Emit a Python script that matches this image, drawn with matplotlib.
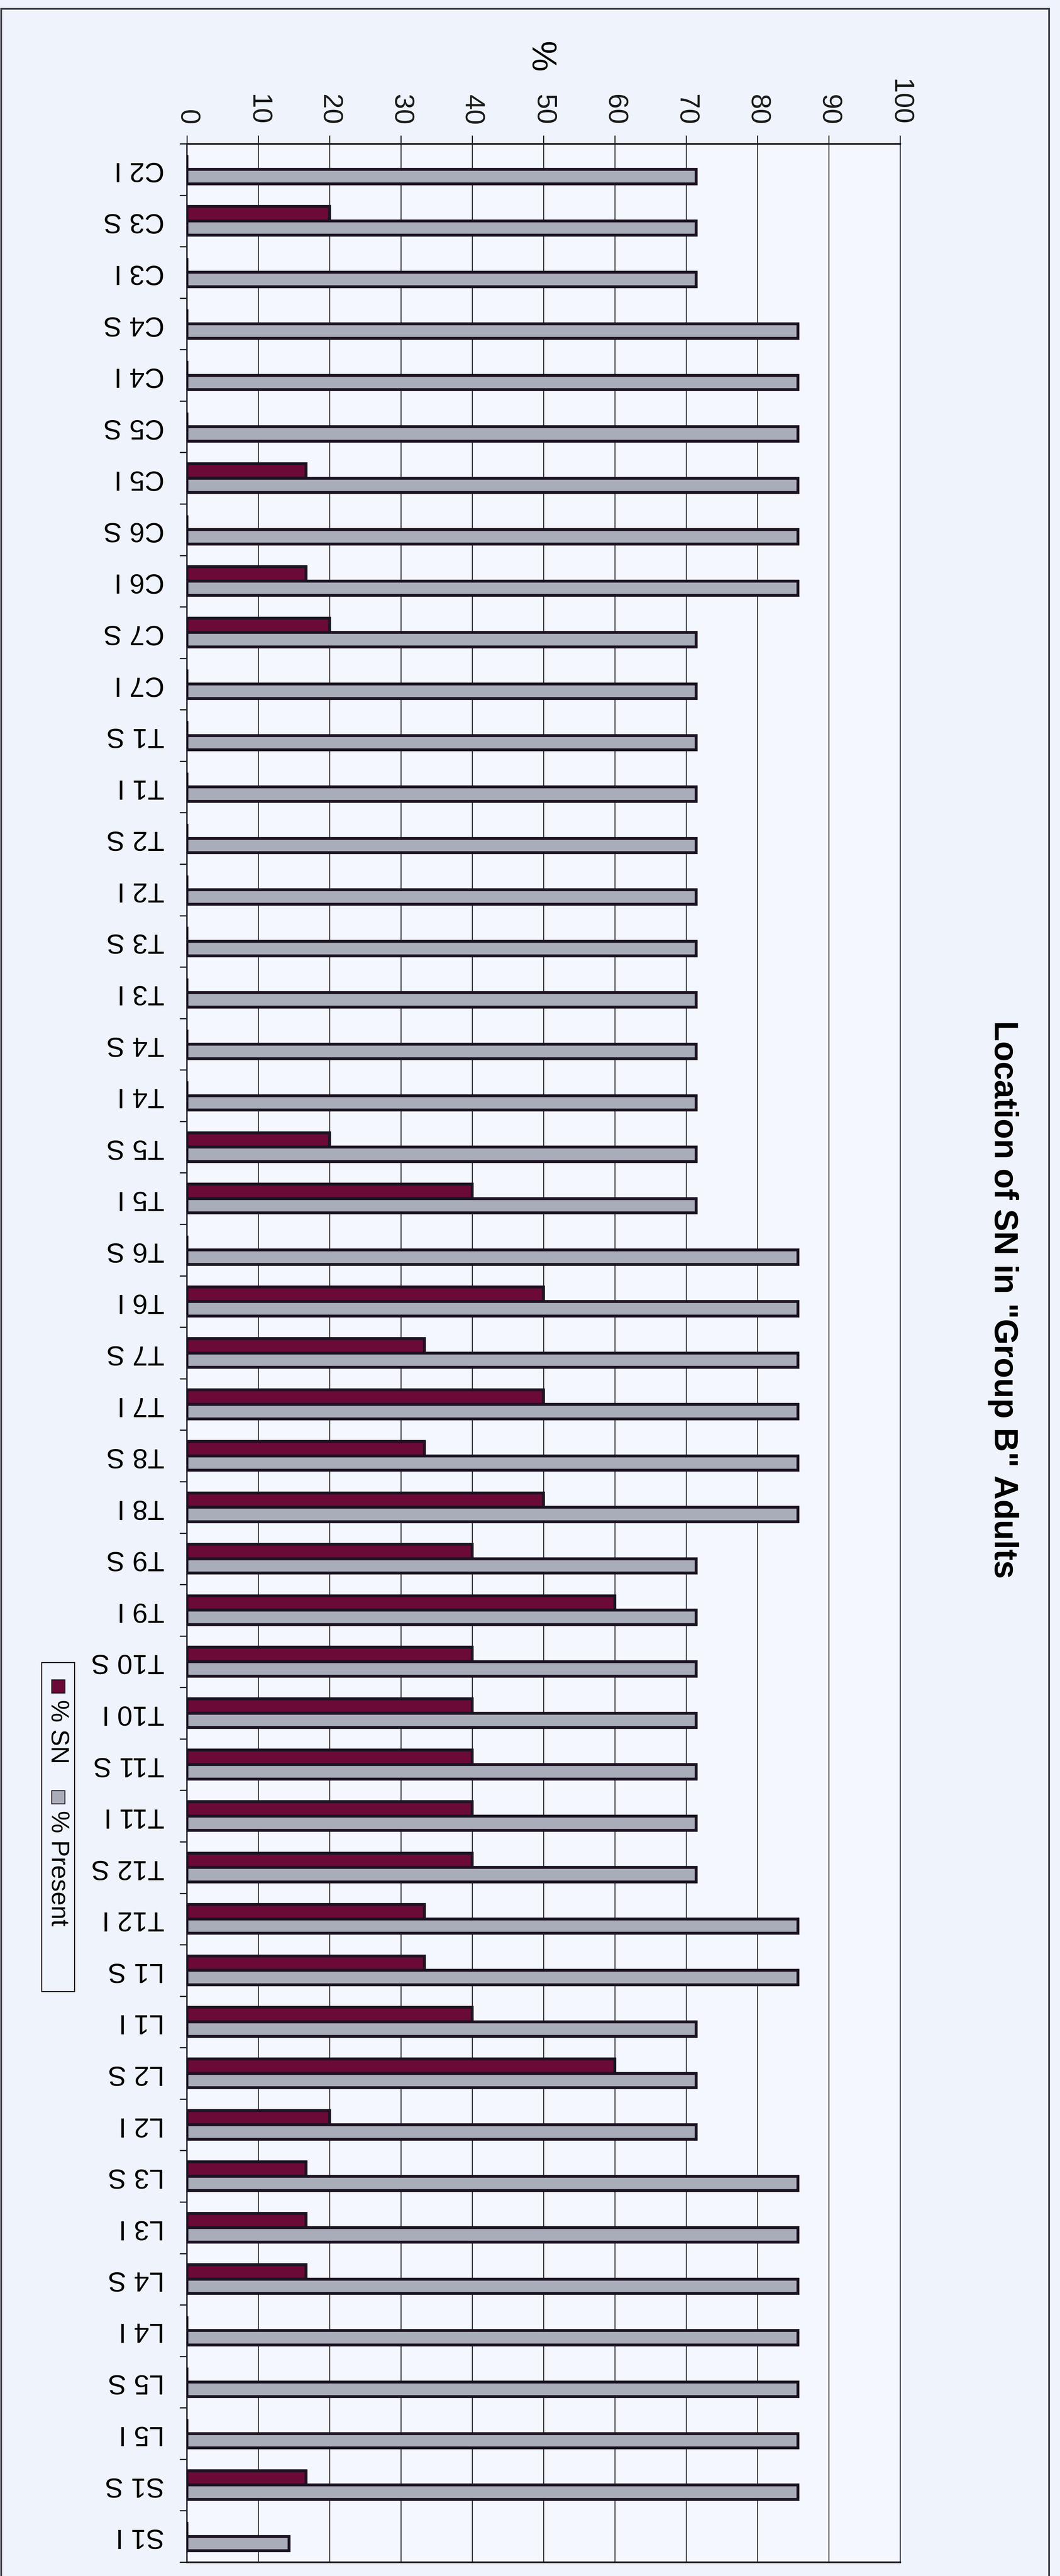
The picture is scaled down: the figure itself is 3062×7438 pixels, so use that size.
import matplotlib
matplotlib.use("Agg")
import matplotlib.pyplot as plt
from matplotlib.patches import Rectangle
import numpy as np

plt.rcParams['font.family'] = ['Liberation Sans', 'DejaVu Sans']

# Chart data
levels = ['C2 I', 'C3 S', 'C3 I', 'C4 S', 'C4 I', 'C5 S', 'C5 I', 'C6 S', 'C6 I',
          'C7 S', 'C7 I', 'T1 S', 'T1 I', 'T2 S', 'T2 I', 'T3 S', 'T3 I', 'T4 S',
          'T4 I', 'T5 S', 'T5 I', 'T6 S', 'T6 I', 'T7 S', 'T7 I', 'T8 S', 'T8 I',
          'T9 S', 'T9 I', 'T10 S', 'T10 I', 'T11 S', 'T11 I', 'T12 S', 'T12 I',
          'L1 S', 'L1 I', 'L2 S', 'L2 I', 'L3 S', 'L3 I', 'L4 S', 'L4 I', 'L5 S',
          'L5 I', 'S1 S', 'S1 I']
pct_sn = [0, 20, 0, 0, 0, 0, 16.7, 0, 16.7,
          20, 0, 0, 0, 0, 0, 0, 0, 0,
          0, 20, 40, 0, 50, 33.3, 50, 33.3, 50,
          40, 60, 40, 40, 40, 40, 40, 33.3,
          33.3, 40, 60, 20, 16.7, 16.7, 16.7, 0, 0,
          0, 16.7, 0]
pct_present = [71.4, 71.4, 71.4, 85.7, 85.7, 85.7, 85.7, 85.7, 85.7,
               71.4, 71.4, 71.4, 71.4, 71.4, 71.4, 71.4, 71.4, 71.4,
               71.4, 71.4, 71.4, 85.7, 85.7, 85.7, 85.7, 85.7, 85.7,
               71.4, 71.4, 71.4, 71.4, 71.4, 71.4, 71.4, 85.7,
               85.7, 71.4, 71.4, 71.4, 85.7, 85.7, 85.7, 85.7, 85.7,
               85.7, 85.7, 14.3]
value_ticks = [0, 10, 20, 30, 40, 50, 60, 70, 80, 90, 100]

bg = '#EFF4FC'
sn_color = '#6B0A36'
present_color = '#A9ADBA'
edge = '#1C1322'

W, H = 3062, 7438
fig = plt.figure(figsize=(W / 100, H / 100), dpi=100, facecolor=bg)

# outer chart border (top, left, right)
fig.patches.append(Rectangle((3 / W, -0.01), (3030 - 3) / W, 1.01 - 25 / H,
                             transform=fig.transFigure, fill=False,
                             edgecolor='#3a3a48', linewidth=3.6))

ax = fig.add_axes([540 / W, 1 - 7398 / H, (2600 - 540) / W, (7398 - 415) / H])
ax.set_facecolor('#F4F8FE')

y = np.arange(len(levels))
bh = 0.28
ax.barh(y - bh / 2, pct_sn, height=bh, color=sn_color, edgecolor=edge,
        linewidth=6, zorder=3, label='% SN')
ax.barh(y + bh / 2, pct_present, height=bh, color=present_color, edgecolor=edge,
        linewidth=6, zorder=3, label='% Present')

ax.set_xlim(0, 100)
ax.set_ylim(len(levels) - 0.5, -0.5)

# value axis on top
ax.xaxis.tick_top()
ax.set_xticks(value_ticks)
ax.set_xticklabels([str(v) for v in value_ticks], rotation=-90, fontsize=57)
ax.tick_params(axis='x', direction='out', length=17, width=2.2, pad=22,
               colors='#1a1a1a')
ax.grid(axis='x', color='#2a2a35', linewidth=2.0, zorder=0)

# category axis
ax.set_yticks(y)
ax.set_yticklabels(levels, rotation=180, fontsize=57, va='center')
ax.tick_params(axis='y', which='major', length=0, pad=47)
ax.set_yticks(np.arange(-0.5, len(levels), 1.0), minor=True)
ax.tick_params(axis='y', which='minor', direction='out', length=15, width=2.5,
               color='#1a1a1a')

for side, lw in [('top', 3.6), ('left', 3.0), ('bottom', 3.6), ('right', 2.0)]:
    ax.spines[side].set_linewidth(lw)
    ax.spines[side].set_color('#1e1a26')

# axis title and chart title (rotated like the page)
fig.text(1560 / W, 1 - 165 / H, '%', rotation=-90, fontsize=72,
         ha='center', va='center')
fig.text(2898 / W, 1 - 3752 / H, 'Location of SN in "Group B" Adults',
         rotation=-90, fontsize=69, fontweight='bold',
         family=['Liberation Sans Narrow', 'Liberation Sans', 'DejaVu Sans'],
         ha='center', va='center')

# legend drawn by hand so that it is rotated with the chart
lx0, lx1 = 120, 215
ly0, ly1 = 4800, 5750
fig.patches.append(Rectangle((lx0 / W, 1 - ly1 / H), (lx1 - lx0) / W, (ly1 - ly0) / H,
                             transform=fig.transFigure, facecolor=bg,
                             edgecolor='#1e1a26', linewidth=2.2))
xc = (lx0 + lx1) / 2
sq = 38
entries = [('% SN', sn_color, 4850), ('% Present', present_color, 5170)]
for name, col, ys in entries:
    fig.patches.append(Rectangle(((xc - sq / 2) / W, 1 - (ys + sq) / H), sq / W, sq / H,
                                 transform=fig.transFigure, facecolor=col,
                                 edgecolor=edge, linewidth=2))
    fig.text(xc / W, 1 - (ys + sq + 20) / H, name, rotation=-90, fontsize=52,
             ha='center', va='top')

fig.savefig('out.png', dpi=100, facecolor=bg)
